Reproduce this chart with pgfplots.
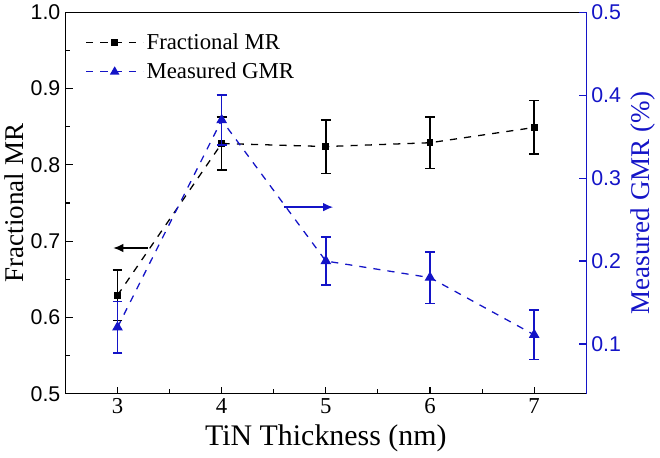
\documentclass[border=0pt]{standalone}
\usepackage{fontspec}
\setmainfont{Liberation Serif}
\newfontfamily\tickfont{Liberation Sans}
\usepackage{pgfplots}
\pgfplotsset{compat=1.18}
\usetikzlibrary{arrows.meta}
\definecolor{gmrblue}{rgb}{0.08,0.08,0.78}
\pgfplotstableread{
x y e
3 0.629 0.033
4 0.828 0.035
5 0.824 0.035
6 0.829 0.034
7 0.849 0.035
}\fracmr
\pgfplotstableread{
x y e
3 0.120 0.031
4 0.370 0.030
5 0.200 0.029
6 0.180 0.031
7 0.111 0.030
}\gmr
\begin{document}
\begin{tikzpicture}
\begin{axis}[
  scale only axis, width=366pt, height=268pt,
  xmin=2.5, xmax=7.5, ymin=0.5, ymax=1.0,
  xtick={3,4,5,6,7}, minor x tick num=1,
  ytick={0.5,0.6,0.7,0.8,0.9,1.0}, minor y tick num=1,
  xtick pos=bottom, ytick pos=left, tick align=inside,
  major tick length=5pt, minor tick length=3pt,
  axis line style={line width=1pt}, every tick/.style={black, line width=0.8pt},
  /pgf/number format/assume math mode=true,
  yticklabel style={font=\tickfont\fontsize{15}{15}\selectfont, /pgf/number format/.cd, fixed, fixed zerofill, precision=1},
  xticklabel style={font=\fontsize{16}{16}\selectfont},
  xlabel={TiN Thickness (nm)}, ylabel={Fractional MR},
  xlabel style={font=\fontsize{21}{21}\selectfont, yshift=-1pt},
  ylabel style={font=\fontsize{19}{19}\selectfont, yshift=-2pt},
  legend style={draw=none, fill=none, at={(0.03,0.96)}, anchor=north west,
    font=\fontsize{16}{16}\selectfont, row sep=4pt},
  legend cell align=left,
  legend image code/.code={\draw[mark repeat=2,mark phase=2] plot coordinates {(0pt,0pt) (20pt,0pt) (40pt,0pt)};},
]
\addplot[black, dash pattern=on 5pt off 5pt, line width=0.9pt, mark=square*, mark size=2pt, mark options={solid},
  error bars/.cd, y dir=both, y explicit, error bar style={solid, line width=1pt}, error mark options={rotate=90, mark size=3.5pt, line width=1pt}]
  table[x=x, y=y, y error=e] {\fracmr};
\addlegendentry{Fractional MR}
\addlegendimage{gmrblue, dash pattern=on 5pt off 5pt, line width=0.9pt, mark=triangle*, mark size=3pt, mark options={solid}}
\addlegendentry{Measured GMR}
\draw[-{Latex[length=7pt,width=6pt]}, line width=1pt] (axis cs:3.29,0.691) -- (axis cs:2.96,0.691);
\end{axis}
\begin{axis}[
  scale only axis, width=366pt, height=268pt,
  xmin=2.5, xmax=7.5, ymin=0.04, ymax=0.5,
  axis x line=none, axis y line*=right,
  ytick={0.1,0.2,0.3,0.4,0.5},
  tick align=inside, major tick length=5pt,
  y axis line style={gmrblue, line width=1pt}, every tick/.style={gmrblue, line width=0.8pt},
  /pgf/number format/assume math mode=true,
  yticklabel style={gmrblue, font=\tickfont\fontsize{15}{15}\selectfont, /pgf/number format/.cd, fixed, fixed zerofill, precision=1},
  ylabel={Measured GMR (\%)},
  ylabel style={gmrblue, font=\fontsize{19}{19}\selectfont},
]
\addplot[gmrblue, dash pattern=on 5pt off 5pt, line width=0.9pt, mark=triangle*, mark size=3.5pt, mark options={solid},
  error bars/.cd, y dir=both, y explicit, error bar style={solid, line width=1pt}, error mark options={rotate=90, mark size=3.5pt, line width=1pt}]
  table[x=x, y=y, y error=e] {\gmr};
\draw[gmrblue, -{Latex[length=7pt,width=6pt]}, line width=1pt] (axis cs:4.6,0.265) -- (axis cs:5.07,0.265);
\end{axis}
\end{tikzpicture}
\end{document}
